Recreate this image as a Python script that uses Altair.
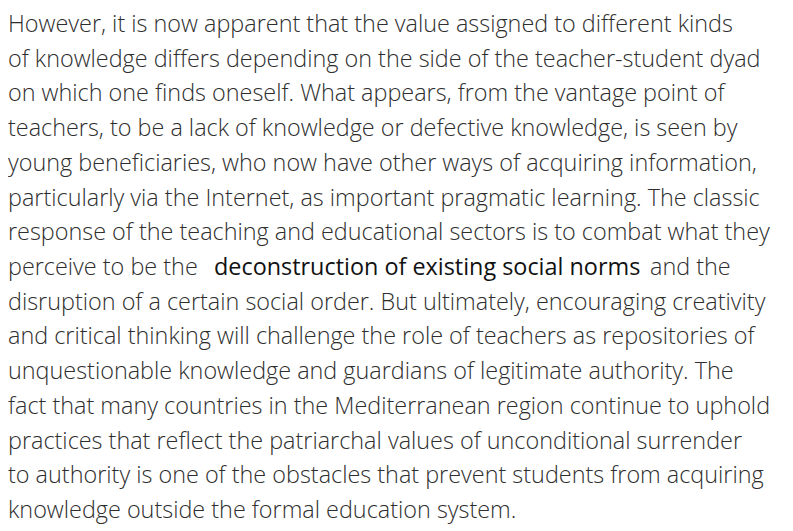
import altair as alt
import pandas as pd

lines = [
    "However, it is now apparent that the value assigned to different kinds",
    "of knowledge differs depending on the side of the teacher-student dyad",
    "on which one finds oneself. What appears, from the vantage point of",
    "teachers, to be a lack of knowledge or defective knowledge, is seen by",
    "young beneficiaries, who now have other ways of acquiring information,",
    "particularly via the Internet, as important pragmatic learning. The classic",
    "response of the teaching and educational sectors is to combat what they",
    None,
    "disruption of a certain social order. But ultimately, encouraging creativity",
    "and critical thinking will challenge the role of teachers as repositories of",
    "unquestionable knowledge and guardians of legitimate authority. The",
    "fact that many countries in the Mediterranean region continue to uphold",
    "practices that reflect the patriarchal values of unconditional surrender",
    "to authority is one of the obstacles that prevent students from acquiring",
    "knowledge outside the formal education system.",
]

seg_line = [7, 7, 7]
seg_text = ["perceive to be the", "deconstruction of existing social norms", "and the"]
seg_x = [0, 206, 642]
seg_bold = [False, True, False]

rows = []
for i, t in enumerate(lines):
    if t is not None:
        rows.append({"line": i, "text": t, "x": 0, "bold": False})
for l, t, x, b in zip(seg_line, seg_text, seg_x, seg_bold):
    rows.append({"line": l, "text": t, "x": x, "bold": b})
df = pd.DataFrame(rows)

x_enc = alt.X("x:Q", scale=alt.Scale(domain=[0, 777], range=[0, 777]), axis=None)
y_enc = alt.Y("line:Q", scale=alt.Scale(domain=[0, 14], range=[24, 510]), axis=None)

base = alt.Chart(df).encode(x=x_enc, y=y_enc, text="text:N")

light = base.transform_filter("!datum.bold").mark_text(
    font="Open Sans", fontWeight=300, fontSize=23.4, align="left",
    baseline="alphabetic", color="#2e2e2e")
bold = base.transform_filter("datum.bold").mark_text(
    font="Open Sans", fontWeight=400, fontSize=23.4, align="left",
    baseline="alphabetic", color="#111111")

chart = alt.layer(light, bold).properties(
    width=777, height=520, padding=0,
    autosize=alt.AutoSizeParams(type="none"),
).configure_view(stroke=None)

chart.save("out.html", embed_options={"renderer": "svg", "actions": False})
